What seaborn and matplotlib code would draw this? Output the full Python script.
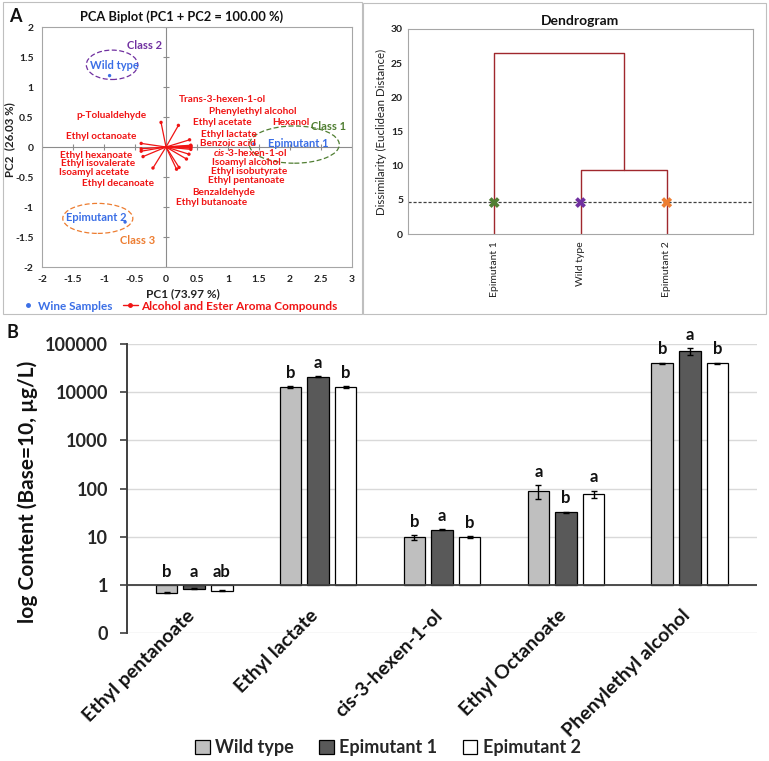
import numpy as np
import pandas as pd
import seaborn as sns
import matplotlib.pyplot as plt
import matplotlib.transforms as mtransforms
from matplotlib.patches import Ellipse, Rectangle
from matplotlib.lines import Line2D
from matplotlib.ticker import FuncFormatter, MultipleLocator

sns.set_theme(style="white")
plt.rcParams['font.family'] = ['Lato', 'DejaVu Sans']
plt.rcParams['mathtext.fontset'] = 'custom'
plt.rcParams['mathtext.rm'] = 'Lato:bold'
plt.rcParams['mathtext.it'] = 'Lato:italic:bold'

# -------------------------------
#  Datos
# -------------------------------

# PCA: muestras de vino
samples = ["Wild type", "Epimutant 1", "Epimutant 2"]
sample_pc1 = [-0.91, 1.42, -0.66]
sample_pc2 = [1.19, 0.05, -1.25]

# PCA: cargas de los compuestos
compounds = ["Trans-3-hexen-1-ol", "Phenylethyl alcohol", "Ethyl acetate", "Hexanol",
             "Ethyl lactate", "Benzoic acid", r"$\mathit{cis}$-3-hexen-1-ol", "Isoamyl alcohol",
             "Ethyl isobutyrate", "Ethyl pentanoate", "Benzaldehyde", "Ethyl butanoate",
             "p-Tolualdehyde", "Ethyl octanoate", "Ethyl hexanoate", "Ethyl isovalerate",
             "Isoamyl acetate", "Ethyl decanoate"]
load_pc1 = [0.20, 0.40, 0.40, 0.40, 0.38, 0.40, 0.40, 0.37, 0.33, 0.40, 0.21, 0.17,
            -0.08, -0.40, -0.40, -0.40, -0.37, -0.21]
load_pc2 = [0.36, 0.03, 0.02, 0.01, 0.12, 0.00, -0.02, -0.12, -0.20, -0.04, -0.34, -0.37,
            0.41, 0.06, -0.03, -0.07, -0.16, -0.35]

# posiciones de las etiquetas (x, y, alineación)
label_pos = [(0.20, 0.79, "left"), (0.70, 0.59, "left"), (0.44, 0.41, "left"), (1.71, 0.41, "left"),
             (0.57, 0.21, "left"), (0.55, 0.06, "left"), (0.76, -0.09, "left"), (0.75, -0.25, "left"),
             (0.72, -0.40, "left"), (0.67, -0.56, "left"), (0.43, -0.76, "left"), (0.16, -0.92, "left"),
             (-0.31, 0.53, "right"), (-0.47, 0.17, "right"), (-0.55, -0.14, "right"), (-0.49, -0.28, "right"),
             (-0.59, -0.42, "right"), (-0.19, -0.61, "right")]

# Dendrograma
leaf_order = ["Epimutant 1", "Wild type", "Epimutant 2"]
links = [("Wild type", "Epimutant 2", 9.4), ("Epimutant 1", "Wild type+Epimutant 2", 26.5)]
cut_level = 4.7

# Gráfico de barras (µg/L)
bar_compounds = ["Ethyl pentanoate", "Ethyl lactate", "cis-3-hexen-1-ol", "Ethyl Octanoate",
                 "Phenylethyl alcohol"]
wt_content = [0.69, 12800, 9.8, 88, 40000]
e1_content = [0.83, 21000, 14.0, 32, 71000]
e2_content = [0.76, 12900, 10.0, 77, 40000]
wt_err = [0.02, 500, 1.1, 28, 900]
e1_err = [0.02, 300, 0.5, 1.2, 11000]
e2_err = [0.03, 500, 0.4, 13, 900]
wt_letters = ["b", "b", "b", "a", "b"]
e1_letters = ["a", "a", "a", "b", "a"]
e2_letters = ["ab", "b", "b", "a", "b"]

W, H = 769, 761
fig = plt.figure(figsize=(W / 100, H / 100), dpi=100)

def fx(px):
    return px / W

def fy(px):
    return 1 - px / H

blue = "#3B6FE6"
red = "#F01414"
green = "#507E32"
purple = "#7030A0"
orange = "#ED7D31"
framec = "#A6A6A6"

# marcos de los paneles A
fig.add_artist(Rectangle((fx(3), fy(314)), fx(359), 312 / H, fill=False, ec="#BFBFBF", lw=0.8))
fig.add_artist(Rectangle((fx(363), fy(314)), fx(403), 311 / H, fill=False, ec="#BFBFBF", lw=0.8))

# -------------------------------
#  PCA biplot
# -------------------------------
ax = fig.add_axes([fx(42), fy(267), fx(310), 240 / H])
ax.set_xlim(-2, 3)
ax.set_ylim(-2, 2)
for s in ax.spines.values():
    s.set_color(framec)
    s.set_linewidth(0.8)
ax.xaxis.set_major_locator(MultipleLocator(0.5))
ax.yaxis.set_major_locator(MultipleLocator(0.5))
fmt = FuncFormatter(lambda v, p: "%g" % v)
ax.xaxis.set_major_formatter(fmt)
ax.yaxis.set_major_formatter(fmt)
ax.tick_params(length=0, labelsize=7.5, colors="#222222")
ax.tick_params(axis="x", pad=6)
ax.tick_params(axis="y", pad=6)
for t in ax.get_xticklabels() + ax.get_yticklabels():
    t.set_fontweight("bold")

ax.axhline(0, color="#8C8C8C", lw=0.8, zorder=1)
ax.axvline(0, color="#8C8C8C", lw=0.8, zorder=1)
xt = np.arange(-2, 3.01, 0.5)
yt = np.arange(-2, 2.01, 0.5)
ax.plot(xt, np.zeros_like(xt), ls="none", marker="|", ms=4, color="#8C8C8C", mew=0.8, zorder=1)
ax.plot(np.zeros_like(yt), yt, ls="none", marker="_", ms=4, color="#8C8C8C", mew=0.8, zorder=1)

for lx, ly in zip(load_pc1, load_pc2):
    ax.plot([0, lx], [0, ly], color=red, lw=0.9, zorder=3)
sns.scatterplot(x=load_pc1, y=load_pc2, color=red, s=6, edgecolor="none", ax=ax, zorder=4)
for name, (tx, ty, ha) in zip(compounds, label_pos):
    ax.text(tx, ty, name, color=red, fontsize=7.2, fontweight="bold", ha=ha, va="center", zorder=5)

sns.scatterplot(x=sample_pc1, y=sample_pc2, color=blue, s=6, edgecolor="none", ax=ax, zorder=4)
ax.text(-0.825, 1.36, "Wild type", color=blue, fontsize=8, fontweight="bold", ha="center", va="center")
ax.text(2.14, 0.06, "Epimutant 1", color=blue, fontsize=8, fontweight="bold", ha="center", va="center")
ax.text(-1.12, -1.18, "Epimutant 2", color=blue, fontsize=8, fontweight="bold", ha="center", va="center")

ax.add_patch(Ellipse((-0.87, 1.37), 0.83, 0.49, fill=False, ec=purple, ls=(0, (4, 2)), lw=0.9))
ax.add_patch(Ellipse((2.07, 0.04), 1.45, 0.62, fill=False, ec=green, ls=(0, (4, 2)), lw=0.9))
ax.add_patch(Ellipse((-1.10, -1.19), 1.13, 0.50, fill=False, ec=orange, ls=(0, (4, 2)), lw=0.9))
ax.text(-0.35, 1.70, "Class 2", color=purple, fontsize=8, fontweight="bold", ha="center", va="center")
ax.text(2.63, 0.35, "Class 1", color=green, fontsize=8, fontweight="bold", ha="center", va="center")
ax.text(-0.46, -1.55, "Class 3", color=orange, fontsize=8, fontweight="bold", ha="center", va="center")

ax.set_xlabel("PC1 (73.97 %)", fontsize=8.5, fontweight="bold", color="#222222")
ax.xaxis.set_label_coords(0.455, -0.088)
ax.set_ylabel("PC2  (26.03 %)", fontsize=8.3, fontweight="bold", color="#222222")
ax.yaxis.set_label_coords(-0.087, 0.53)

fig.text(fx(182), fy(17), "PCA Biplot (PC1 + PC2 = 100.00 %)", fontsize=9.3, fontweight="bold",
         ha="center", va="center", color="#111111")
fig.text(fx(15), fy(17), "A", fontsize=13, fontweight="bold", ha="center", va="center", color="#111111")

leg_handles = [Line2D([], [], ls="none", marker="o", ms=2.5, color=blue),
               Line2D([], [], lw=1, marker="o", ms=2.5, color=red)]
fig.legend(leg_handles, ["Wine Samples", "Alcohol and Ester Aroma Compounds"], loc="center",
           bbox_to_anchor=(fx(179), fy(306)), ncol=2, frameon=False, labelcolor=[blue, red],
           prop=dict(size=8.5, weight="bold"), handlelength=1.2, handletextpad=0.3, columnspacing=0.9)

# -------------------------------
#  Dendrograma
# -------------------------------
axd = fig.add_axes([fx(408), fy(234), fx(345), 205 / H])
axd.set_xlim(0, 4)
axd.set_ylim(0, 30)
for s in axd.spines.values():
    s.set_color(framec)
    s.set_linewidth(0.8)

pos = {name: i + 1 for i, name in enumerate(leaf_order)}
base = {name: 0 for name in leaf_order}
dcol = "#A0282D"
for left, right, h in links:
    xl, xr = pos[left], pos[right]
    axd.plot([xl, xl, xr, xr], [base[left], h, h, base[right]], color=dcol, lw=1)
    new = left + "+" + right
    pos[new] = (xl + xr) / 2
    base[new] = h

axd.axhline(cut_level, color="#404040", lw=0.9, ls=(0, (2.5, 1.5)))
leaf_x = [pos[n] for n in leaf_order]
sns.scatterplot(x=leaf_x, y=[cut_level - 0.1] * 3, hue=leaf_order, palette=[green, purple, orange],
                marker="X", s=60, edgecolor="none", legend=False, ax=axd, zorder=5)

axd.set_xticks(leaf_x)
axd.set_xticklabels(leaf_order, rotation=90, fontsize=7.3, color="#222222")
axd.yaxis.set_major_locator(MultipleLocator(5))
axd.tick_params(length=0, labelsize=7.5, colors="#222222")
axd.tick_params(axis="x", pad=5)
for t in axd.get_yticklabels():
    t.set_fontweight("bold")
axd.set_ylabel("Dissimilarity (Euclidean Distance)", fontsize=8.3, color="#222222")
axd.yaxis.set_label_coords(-0.06, 0.5)
axd.set_title("Dendrogram", fontsize=10, fontweight="bold", color="#111111", pad=3)

# -------------------------------
#  Gráfico de barras (panel B)
# -------------------------------
df = pd.DataFrame({
    "compound": bar_compounds * 3,
    "sample": ["Wild type"] * 5 + ["Epimutant 1"] * 5 + ["Epimutant 2"] * 5,
    "content": wt_content + e1_content + e2_content,
    "err": wt_err + e1_err + e2_err,
    "letter": wt_letters + e1_letters + e2_letters,
})
df["log_content"] = np.log10(df["content"])

axb = fig.add_axes([fx(127), fy(633), fx(630), 289 / H])
sns.barplot(data=df, x="compound", y="log_content", hue="sample",
            palette=["#BFBFBF", "#595959", "#FFFFFF"], edgecolor="black", linewidth=0.9,
            width=0.667, gap=0.21, errorbar=None, ax=axb)

for i, cont in enumerate(axb.containers):
    sub = df.iloc[i * 5:(i + 1) * 5]
    for bar, (_, row) in zip(cont, sub.iterrows()):
        xc = bar.get_x() + bar.get_width() / 2
        v, e = row["content"], row["err"]
        lo = np.log10(v) - np.log10(v - e)
        hi = np.log10(v + e) - np.log10(v)
        axb.errorbar(xc, np.log10(v), yerr=[[lo], [hi]], color="black", lw=1, capsize=2.5,
                     capthick=1, zorder=5)
        top = max(np.log10(v) + hi, 0)
        axb.text(xc, top + 0.11, row["letter"], ha="center", va="bottom", fontsize=12,
                 fontweight="bold", color="#111111")

axb.set_ylim(-1, 5)
axb.set_yticks(range(-1, 6))
axb.set_yticklabels(["0", "1", "10", "100", "1000", "10000", "100000"])
axb.yaxis.grid(True, color="#D9D9D9", lw=1)
axb.set_axisbelow(True)
axb.axhline(0, color="#404040", lw=1.3, zorder=3)
for k in ["top", "right", "bottom"]:
    axb.spines[k].set_visible(False)
axb.spines["left"].set_color("#404040")
axb.spines["left"].set_linewidth(1.4)
axb.tick_params(axis="y", left=True, length=5, width=1.2, color="#404040", pad=8.5, labelsize=13)
for t in axb.get_yticklabels():
    t.set_fontweight("bold")
axb.set_xlabel("")
axb.set_xticks(axb.get_xticks())
axb.set_xticklabels(bar_compounds, rotation=45, ha="right", rotation_mode="anchor",
                    fontsize=14, fontweight="bold", color="#111111")
axb.tick_params(axis="x", length=0, pad=-19)
shift = mtransforms.ScaledTranslation(-6 / 72, 0, fig.dpi_scale_trans)
for t in axb.get_xticklabels():
    t.set_transform(t.get_transform() + shift)
axb.set_ylabel("log Content (Base=10, µg/L)", fontsize=15, fontweight="bold", color="#111111")
axb.yaxis.set_label_coords(-0.141, 0.488)

sns.move_legend(axb, "center", bbox_to_anchor=(fx(388), fy(748)), bbox_transform=fig.transFigure,
                ncol=3, frameon=False, title=None, handlelength=0.8, handleheight=0.8,
                handletextpad=0.3, columnspacing=1.4, prop=dict(size=13, weight="bold"))

fig.text(fx(12), fy(332), "B", fontsize=13, fontweight="bold", ha="center", va="center", color="#111111")

plt.savefig("out.png", dpi=100)
